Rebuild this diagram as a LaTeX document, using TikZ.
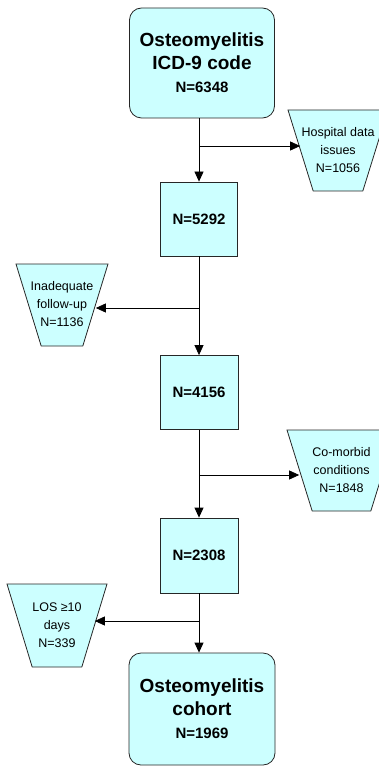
\documentclass[tikz,border=0pt]{standalone}
\usepackage{fontspec}
\setmainfont{Liberation Sans}
\usetikzlibrary{shapes.geometric,arrows.meta}
\definecolor{boxcyan}{RGB}{204,255,255}
% centred stack of lines that may overhang its trapezium
\newcommand{\sidelbl}[1]{\makebox[0pt]{\begin{tabular}{@{}c@{}}#1\end{tabular}}}

\begin{document}
\begin{tikzpicture}[x=1pt, y=-1pt,
  % Box styles
  endbox/.style={rectangle, rounded corners=12pt, draw=black!85, fill=boxcyan,
    minimum width=145pt, minimum height=110pt, align=center, inner sep=0pt,
    font=\fontsize{19}{23}\selectfont\bfseries, line width=0.8pt},
  countbox/.style={rectangle, draw=black!85, fill=boxcyan,
    minimum width=77pt, minimum height=74pt, align=center, inner sep=0pt,
    font=\fontsize{15}{18}\selectfont\bfseries, line width=0.8pt},
  excl/.style={trapezium, shape border rotate=180, trapezium stretches body=true,
    trapezium left angle=65, trapezium right angle=65,
    draw=black!85, fill=boxcyan, inner sep=0pt, minimum height=81pt,
    font=\fontsize{12.5}{18}\selectfont, line width=0.8pt},
  % Arrow style
  flow/.style={-{Triangle[length=10pt,width=9pt]}, line width=0.8pt},
]

% Picture frame
\useasboundingbox (0,0) rectangle (379,767);
\clip (0,0) rectangle (379,767);

% Horizontal position of the main column
\def\mainx{199}

% --- Main column ---
\node[endbox] (start) at (202,63)
  {Osteomyelitis\\ICD-9 code\\\fontsize{15}{23}\selectfont N=6348};
\node[countbox] (n1) at (\mainx,219) {N=5292};
\node[countbox, minimum width=78pt] (n2) at (\mainx,392.5) {N=4156};
\node[countbox, minimum width=78pt, minimum height=75pt] (n3) at (\mainx,555.5) {N=2308};
\node[endbox, minimum width=146pt, minimum height=112pt] (cohort) at (202,709)
  {Osteomyelitis\\cohort\\\fontsize{15}{23}\selectfont N=1969};

% --- Exclusions ---
\node[excl, minimum width=100pt] (hosp) at (338,150.5)
  {\sidelbl{Hospital data\\issues\\N=1056}};
\node[excl, minimum width=92pt, minimum height=82pt] (follow) at (62,305)
  {\sidelbl{Inadequate\\follow-up\\N=1136}};
\node[excl, minimum width=109pt] (comorb) at (341.5,470.5)
  {\sidelbl{Co-morbid\\conditions\\N=1848}};
\node[excl, minimum width=100pt, minimum height=83pt] (los) at (57,625.5)
  {\sidelbl{LOS ≥10\\days\\N=339}};

% Branch points on the main line
\coordinate (b1) at (\mainx,146);
\coordinate (b2) at (\mainx,308);
\coordinate (b3) at (\mainx,475);
\coordinate (b4) at (\mainx,621);

% --- Connectors ---
\draw[flow] (start.south -| n1) -- (n1);
\draw[flow] (n1) -- (n2);
\draw[flow] (n2) -- (n3);
\draw[flow] (n3) -- (cohort.north -| n3);

\draw[flow] (b1) -- (b1 -| hosp.west);
\draw[flow] (b2) -- (b2 -| follow.east);
\draw[flow] (b3) -- (b3 -| comorb.west);
\draw[flow] (b4) -- (b4 -| los.east);

\end{tikzpicture}
\end{document}
